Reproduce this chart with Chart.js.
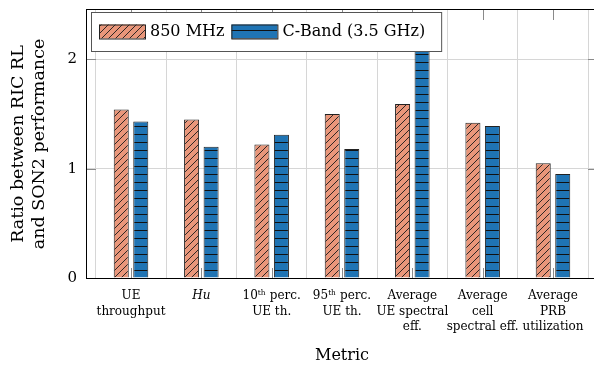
<!DOCTYPE html>
<html>
<head>
<meta charset="utf-8">
<script src="https://cdn.jsdelivr.net/npm/chart.js@4/dist/chart.umd.min.js"></script>
<style>
html,body{margin:0;padding:0;background:#fff;overflow:hidden;width:594px;height:367px;}
canvas{display:block;}
</style>
</head>
<body>
<canvas id="c" width="600" height="367"></canvas>
<script>
// ---- data ----
const categories = [
  ["UE", "throughput"],
  ["Hu"],
  ["10ᵗʰ perc.", "UE th."],
  ["95ᵗʰ perc.", "UE th."],
  ["Average", "UE spectral", "eff."],
  ["Average", "cell", "spectral eff."],
  ["Average", "PRB", "utilization"]
];
const values850 = [1.54, 1.45, 1.22, 1.50, 1.59, 1.42, 1.05];
const valuesCBand = [1.43, 1.20, 1.31, 1.18, 2.30, 1.39, 0.95];
const yTickValues = [0, 1, 2];
const seriesLabels = ["850 MHz", "C-Band (3.5 GHz)"];

const FONT = "'DejaVu Serif', 'Liberation Serif', serif";
const ORANGE = '#E9967A';
const BLUE = '#1F74B4';

function makeHatch() {
  const s = 7, c = document.createElement('canvas');
  c.width = s; c.height = s;
  const g = c.getContext('2d');
  g.fillStyle = ORANGE; g.fillRect(0, 0, s, s);
  g.strokeStyle = '#1a1a1a'; g.lineWidth = 0.9;
  g.beginPath();
  g.moveTo(0, s); g.lineTo(s, 0);
  g.moveTo(-1, 1); g.lineTo(1, -1);
  g.moveTo(s - 1, s + 1); g.lineTo(s + 1, s - 1);
  g.stroke();
  return g.createPattern(c, 'repeat');
}
function makeLines() {
  const s = 8, c = document.createElement('canvas');
  c.width = s; c.height = s;
  const g = c.getContext('2d');
  g.fillStyle = BLUE; g.fillRect(0, 0, s, s);
  g.fillStyle = '#111'; g.fillRect(0, 6, s, 1);
  return g.createPattern(c, 'repeat');
}
const hatch = makeHatch();
const lines = makeLines();

const boxPlugin = {
  id: 'boxPlugin',
  beforeDatasetsDraw(chart) {
    const { ctx, chartArea: a, scales } = chart;
    ctx.save();
    ctx.strokeStyle = '#8a8a8a'; ctx.lineWidth = 1;
    ctx.beginPath();
    categories.forEach((c, i) => {
      const x = Math.round(scales.x.getPixelForValue(i + 1)) + 0.5;
      ctx.moveTo(x, a.top); ctx.lineTo(x, a.top + 10);
      ctx.moveTo(x, a.bottom - 10); ctx.lineTo(x, a.bottom);
    });
    yTickValues.slice(1).forEach(v => {
      const y = Math.round(scales.y.getPixelForValue(v)) + 0.5;
      ctx.moveTo(a.left, y); ctx.lineTo(a.left + 10, y);
      ctx.moveTo(a.right - 10, y); ctx.lineTo(a.right, y);
    });
    ctx.stroke();
    ctx.restore();
  },
  afterDraw(chart) {
    const { ctx, chartArea: a } = chart;
    ctx.save();
    ctx.strokeStyle = '#000'; ctx.lineWidth = 1;
    ctx.strokeRect(Math.round(a.left) + 0.5, Math.round(a.top) - 0.5, Math.round(a.right - a.left), Math.round(a.bottom - a.top) + 1);
    // legend
    ctx.font = '16px ' + FONT;
    const w1 = ctx.measureText(seriesLabels[0]).width;
    const w2 = ctx.measureText(seriesLabels[1]).width;
    const bx = a.left + 5, by = a.top + 2, bh = 39;
    const sw = 46, sh = 14;
    const bw = 8 + sw + 5 + w1 + 7 + sw + 5 + w2 + 16;
    ctx.fillStyle = '#fff';
    ctx.fillRect(bx, by, bw, bh);
    ctx.strokeStyle = '#555';
    ctx.strokeRect(bx + 0.5, by + 0.5, bw, bh);
    const cy = by + bh / 2;
    let x = bx + 8;
    ctx.fillStyle = hatch; ctx.fillRect(x, cy - sh / 2, sw, sh);
    ctx.strokeStyle = '#222'; ctx.strokeRect(x + 0.5, cy - sh / 2 + 0.5, sw, sh);
    x += sw + 5;
    ctx.fillStyle = '#000'; ctx.textBaseline = 'middle'; ctx.textAlign = 'left';
    ctx.fillText(seriesLabels[0], x, cy);
    x += w1 + 7;
    ctx.fillStyle = lines; ctx.fillRect(x, cy - sh / 2, sw, sh);
    ctx.strokeStyle = '#222'; ctx.strokeRect(x + 0.5, cy - sh / 2 + 0.5, sw, sh);
    x += sw + 5;
    ctx.fillStyle = '#000';
    ctx.fillText(seriesLabels[1], x, cy);
    ctx.restore();
  }
};

new Chart(document.getElementById('c'), {
  type: 'bar',
  data: {
    datasets: [
      {
        label: seriesLabels[0],
        data: values850.map((v, i) => ({ x: i + 1, y: v })),
        backgroundColor: hatch,
        borderColor: '#222',
        borderWidth: 1
      },
      {
        label: seriesLabels[1],
        data: valuesCBand.map((v, i) => ({ x: i + 1, y: v })),
        backgroundColor: lines,
        borderColor: '#222',
        borderWidth: 1
      }
    ]
  },
  options: {
    responsive: false,
    animation: false,
    devicePixelRatio: 1,
    categoryPercentage: 0.555,
    barPercentage: 0.77,
    layout: { padding: { top: 10, right: 2, left: 0, bottom: 0 } },
    plugins: { legend: { display: false }, tooltip: { enabled: false } },
    scales: {
      x: {
        type: 'linear',
        min: 0.36,
        max: 7.64,
        offset: false,
        afterBuildTicks: s => { s.ticks = categories.map((c, i) => ({ value: i + 1 })); },
        afterFit: s => { s.height = 89; s.paddingLeft = 0; s.paddingRight = 0; },
        grid: { color: '#d6d6d6', lineWidth: 1, drawTicks: false },
        border: { display: true, color: '#000', width: 1 },
        ticks: {
          padding: 10,
          maxRotation: 0,
          autoSkip: false,
          color: '#000',
          font: ctx => ({ family: FONT, size: 12, lineHeight: 1.3, style: ctx.index === 1 ? 'italic' : 'normal' }),
          callback: v => categories[v - 1]
        },
        title: {
          display: true,
          text: 'Metric',
          color: '#000',
          font: { family: FONT, size: 16, lineHeight: 1.3 },
          padding: { top: 0, bottom: 1 }
        }
      },
      y: {
        min: 0,
        max: 2.45,
        afterBuildTicks: s => { s.ticks = yTickValues.map(v => ({ value: v })); },
        afterFit: s => { s.width = 86; s.paddingTop = 0; s.paddingBottom = 0; },
        grid: {
          color: ctx => ctx.tick && ctx.tick.value === 0 ? 'rgba(0,0,0,0)' : '#d6d6d6',
          drawTicks: false
        },
        border: { display: true, color: '#000', width: 1 },
        ticks: {
          padding: 9,
          color: '#000',
          font: { family: FONT, size: 15 }
        },
        title: {
          display: true,
          text: ['Ratio between RIC RL', 'and SON2 performance'],
          color: '#000',
          font: { family: FONT, size: 17.5, lineHeight: 1.2 },
          padding: { top: 8, bottom: 0 }
        }
      }
    }
  },
  plugins: [boxPlugin]
});
</script>
</body>
</html>
